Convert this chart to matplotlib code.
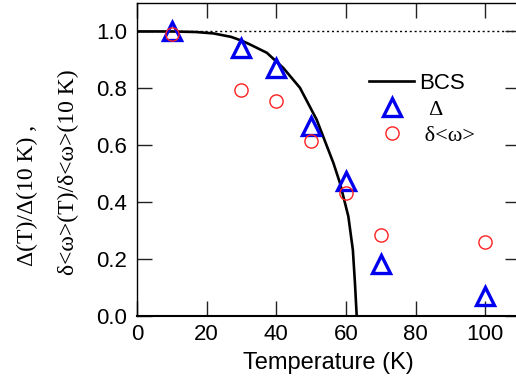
import matplotlib
matplotlib.use('Agg')
from matplotlib import pyplot as plt

# gap ratio data
temp = [10, 30, 40, 50, 60, 70, 100]
delta = [1.0, 0.941, 0.872, 0.667, 0.475, 0.184, 0.071]
domega = [0.99, 0.796, 0.757, 0.614, 0.434, 0.285, 0.26]

# BCS curve
bcs_t = [0, 10, 17, 22, 27, 30, 32.5, 37.3, 42, 46.8, 51.6, 56.4, 58.3, 60.7, 62, 62.6, 63.1]
bcs_v = [1.0, 1.0, 0.998, 0.993, 0.981, 0.968, 0.954, 0.925, 0.872, 0.802, 0.69,
         0.538, 0.467, 0.35, 0.232, 0.115, 0.0]

xticks = [0, 20, 40, 60, 80, 100]
yticks = [0.0, 0.2, 0.4, 0.6, 0.8, 1.0]

sans = 'Liberation Sans'
serif = 'Liberation Serif'

fig = plt.figure(figsize=(5.16, 3.85), dpi=100)
ax = fig.add_axes([137/516, 1-316/385, 383/516, 313/385])

ax.axhline(1.0, color='black', ls=(0, (1.5, 2)), lw=1.0, zorder=1)
ax.plot(bcs_t, bcs_v, color='black', lw=1.9, label='BCS', zorder=2)
ax.plot(temp, delta, ls='none', marker='^', ms=12.5, mfc='none', mec='#0000ee',
        mew=2.4, label='  Δ', zorder=3)
ax.plot(temp, domega, ls='none', marker='o', ms=9.5, mfc='none', mec='#ff2020',
        mew=1.0, label=' δ<ω>', zorder=4)

ax.set_xlim(0, 110)
ax.set_ylim(0, 1.1)
ax.set_xticks(xticks)
ax.set_yticks(yticks)
ax.set_xticklabels([str(t) for t in xticks], family=sans, fontsize=16)
ax.set_yticklabels(['%.1f' % v for v in yticks], family=sans, fontsize=16)
ax.tick_params(direction='in', length=11, width=1.0, top=True, right=True,
               color='#222222')
ax.tick_params(axis='y', pad=7)
ax.tick_params(axis='x', pad=6)
ax.spines['right'].set_visible(False)
for s in ['left', 'top']:
    ax.spines[s].set_linewidth(1.0)
ax.spines['bottom'].set_linewidth(1.5)

ax.set_xlabel('Temperature (K)', family=sans, fontsize=17, labelpad=5)

fig.text(27/516, 1-195/385, 'Δ(T)/Δ(10 K) ,', rotation=90, family=serif,
         fontsize=17, ha='center', va='center')
fig.text(68/516, 1-172/385, 'δ<ω>(T)/δ<ω>(10 K)', rotation=90, family=serif,
         fontsize=17, ha='center', va='center')

leg = ax.legend(loc='upper left', bbox_to_anchor=(0.578, 0.812), frameon=False,
                fontsize=16, handlelength=2.0, handletextpad=0.23,
                labelspacing=0.25, borderpad=0)
texts = leg.get_texts()
texts[0].set_family(sans)
texts[1].set_family(serif)
texts[2].set_family(serif)

plt.savefig('out.png', dpi=100)
